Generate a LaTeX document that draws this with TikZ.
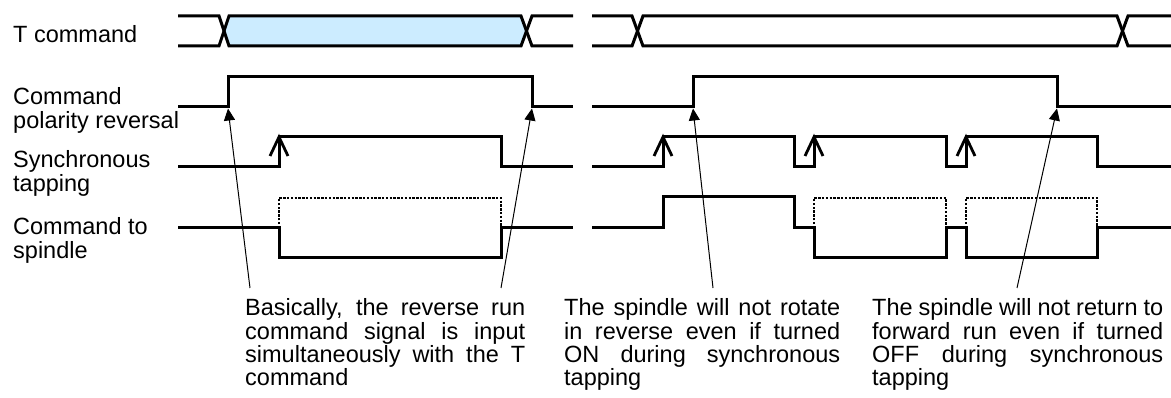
\documentclass[tikz,border=0pt]{standalone}
\usepackage{fontspec}
\setmainfont{Liberation Sans}
\usetikzlibrary{arrows.meta}
\definecolor{tfill}{RGB}{204,236,255}
\tikzset{
  sig/.style={line width=3pt, line join=miter},
  dotbox/.style={line width=2.6pt, dash pattern=on 2.4pt off 1.4pt},
  tapmark/.style={line width=2.8pt, line join=miter},
  note/.style={line width=1pt, -{Triangle[length=12pt,width=11pt]}},
  lbl/.style={anchor=base west, inner sep=0pt, font=\fontsize{23.5pt}{23.3pt}\selectfont},
}
\begin{document}
\begin{tikzpicture}[x=1pt,y=-1pt]
\useasboundingbox (0,0) rectangle (1171,398);

% ---- labels ----
\node[lbl] (lT) at (13,43) {T command};
\node[lbl] (lP) at (13,105) {\parbox[t]{200pt}{\raggedright Command\\polarity reversal}};
\node[lbl] (lS) at (13,168) {\parbox[t]{200pt}{\raggedright Synchronous\\tapping}};
\node[lbl] (lC) at (13,235) {\parbox[t]{200pt}{\raggedright Command to\\spindle}};

% ---- T command ----
\fill[tfill] (224,31) -- (229,16) -- (521,16) -- (526.5,31) -- (521,46) -- (229,46) -- cycle;
\draw[sig] (178,16) -- (219,16) -- (229,46) -- (521,46) -- (532,16) -- (573,16);
\draw[sig] (178,46) -- (219,46) -- (229,16) -- (521,16) -- (532,46) -- (573,46);
\draw[sig] (592,16) -- (632,16) -- (643,46) -- (1117,46) -- (1128,16) -- (1171,16);
\draw[sig] (592,46) -- (632,46) -- (643,16) -- (1117,16) -- (1128,46) -- (1171,46);

% ---- Command polarity reversal ----
\draw[sig] (178,107) -- (228,107) -- (228,77) -- (532,77) -- (532,107) -- (573,107);
\draw[sig] (592,107) -- (693,107) -- (693,77) -- (1057,77) -- (1057,107) -- (1171,107);

% ---- Synchronous tapping ----
\draw[sig] (178,167) -- (279,167) -- (279,137) -- (501,137) -- (501,167) -- (573,167);
\draw[sig] (592,167) -- (663,167) -- (663,137) -- (794,137) -- (794,167) -- (814,167)
  -- (814,137) -- (946,137) -- (946,167) -- (966,167) -- (966,137) -- (1097,137)
  -- (1097,167) -- (1171,167);
\foreach \x in {279,663,814,966}{
  \draw[tapmark] (\x-9,156) -- (\x,137) -- (\x+9,156);
}

% ---- Command to spindle ----
\draw[dotbox] (279,228) -- (279,198) -- (501,198) -- (501,228);
\draw[dotbox] (814,228) -- (814,198) -- (946,198) -- (946,228);
\draw[dotbox] (966,228) -- (966,198) -- (1097,198) -- (1097,228);
\draw[sig] (178,228) -- (279,228) -- (279,258) -- (501,258) -- (501,228) -- (573,228);
\draw[sig] (592,228) -- (663,228) -- (663,197) -- (794,197) -- (794,228) -- (814,228)
  -- (814,258) -- (946,258) -- (946,228) -- (966,228) -- (966,258) -- (1097,258)
  -- (1097,228) -- (1171,228);

% ---- notes ----
\node[lbl] (n1) at (245,316) {\parbox[t]{280pt}{%
\makebox[280pt][s]{Basically, the reverse run}\\
\makebox[280pt][s]{command signal is input}\\
\makebox[280pt][s]{simultaneously with the T}\\
command}};
\node[lbl] (n2) at (564,316) {\parbox[t]{276pt}{%
\makebox[276pt][s]{The spindle will not rotate}\\
\makebox[276pt][s]{in reverse even if turned}\\
\makebox[276pt][s]{ON during synchronous}\\
tapping}};
\node[lbl] (n3) at (872,316) {\parbox[t]{291pt}{%
\makebox[291pt][s]{The spindle will not return to}\\
\makebox[291pt][s]{forward run even if turned}\\
\makebox[291pt][s]{OFF during synchronous}\\
tapping}};

\coordinate (a1s) at (250,288); \coordinate (a1e) at (228,108.5);
\coordinate (a2s) at (501,288); \coordinate (a2e) at (532,108.5);
\coordinate (a3s) at (713,288); \coordinate (a3e) at (693,108.5);
\coordinate (a4s) at (1017,288); \coordinate (a4e) at (1057,108.5);
\draw[note] (a1s) -- (a1e);
\draw[note] (a2s) -- (a2e);
\draw[note] (a3s) -- (a3e);
\draw[note] (a4s) -- (a4e);
\end{tikzpicture}
\end{document}
